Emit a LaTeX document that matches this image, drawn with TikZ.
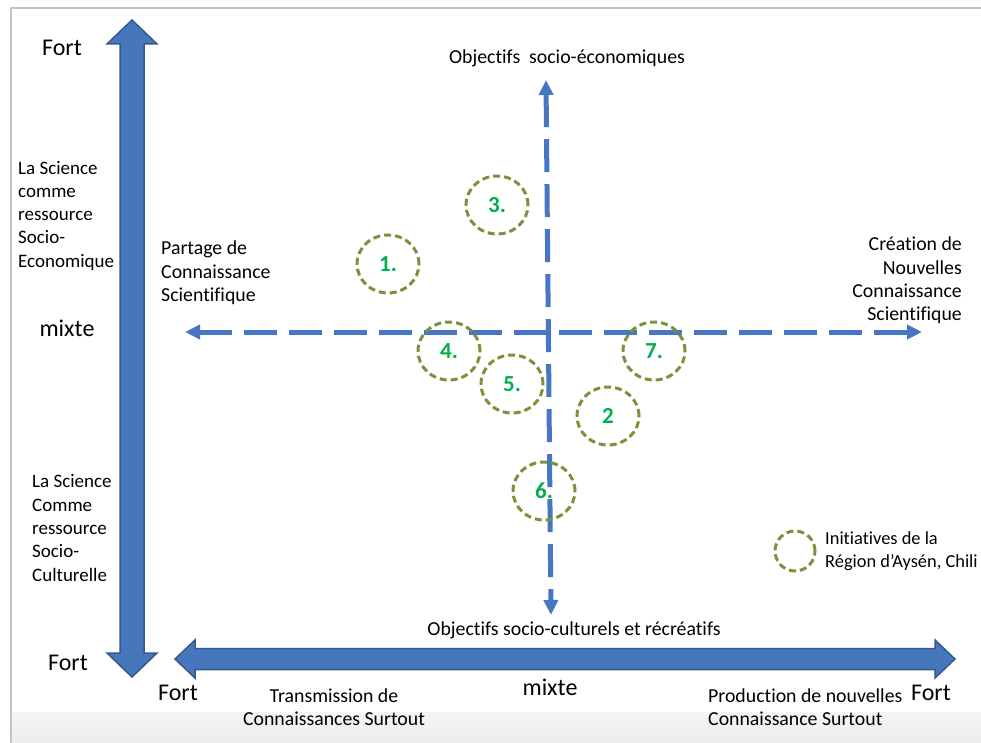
\documentclass[tikz,border=0pt]{standalone}
\usepackage{fontspec}
\setmainfont{Carlito}[Ligatures=CommonOff]
\usetikzlibrary{arrows.meta,positioning,shapes.geometric}
\definecolor{axisblue}{RGB}{70,118,188}
\definecolor{axisedge}{RGB}{52,90,138}
\definecolor{dashblue}{RGB}{72,118,194}
\definecolor{olive}{RGB}{119,147,60}
\definecolor{numgreen}{RGB}{0,176,80}
\definecolor{framegrey}{RGB}{196,196,196}

\begin{document}
\begin{tikzpicture}[x=1pt,y=-1pt,
    lbl/.style={font=\fontsize{19.8}{23.3}\selectfont,inner sep=0pt},
    sidelbl/.style={lbl,font=\fontsize{19}{23.3}\selectfont,anchor=west,align=left},
    big/.style={font=\fontsize{24}{26}\selectfont,inner sep=0pt},
    init/.style={draw=olive,line width=3pt,dash pattern=on 7pt off 4pt,ellipse,
      minimum width=62pt,minimum height=58pt,inner sep=0pt,
      text=numgreen,font=\fontsize{23}{26}\selectfont\bfseries},
    dashaxis/.style={dashblue,line width=5pt,dash pattern=on 33pt off 12pt,
      {Triangle[length=15pt,width=14pt]}-{Triangle[length=15pt,width=14pt]}},
    bigaxis/.style={fill=axisblue,draw=axisedge,line width=1.5pt,line join=miter}]
  \useasboundingbox (0,0) rectangle (981,743);
  % frame and bottom band
  \shade[top color=black!4,bottom color=black!7] (11,712) rectangle (981,743);
  \draw[framegrey,line width=1.5pt] (11,743) -- (11,8) -- (981,8);
  % big axes
  \draw[bigaxis] (132,20) -- (157,44) -- (144,44) -- (144,653) -- (157,653) -- (132,677)
    -- (107,653) -- (120,653) -- (120,44) -- (107,44) -- cycle;
  \draw[bigaxis] (175,659) -- (195,640) -- (195,648.5) -- (935,648.5) -- (935,640) -- (955,659)
    -- (935,678) -- (935,669.5) -- (195,669.5) -- (195,678) -- cycle;
  % dashed axes
  \coordinate (west) at (185,332);
  \coordinate (east) at (922,332);
  \coordinate (north) at (546,80);
  \coordinate (south) at (551,615);
  \draw[dashaxis] (west) -- (east);
  \draw[dashaxis] (north) -- (south);
  % initiatives
  \foreach \p/\n/\l in {(388,264)/c1/1.,(608,416)/c2/2,(497,205)/c3/3.,(449,351)/c4/4.,
      (512,384)/c5/5.,(544,491)/c6/6.,(654,351)/c7/7.}{
    \node[init] (\n) at \p {\l};
  }
  % labels
  \node[big] (fortN) at (62,48) {Fort};
  \node[big] (mixteV) at (67,328) {mixte};
  \node[big] (fortS) at (68,663) {Fort};
  \node[big] (fortW) at (178,693) {Fort};
  \node[big] (mixteH) at (550,687) {mixte};
  \node[big] (fortE) at (931,693) {Fort};
  \node[sidelbl] (eco) at (18,215.6) {La Science\\comme\\ressource\\Socio-\\Economique};
  \node[sidelbl] (cult) at (32,528) {La Science\\Comme\\ressource\\Socio-\\Culturelle};
  \node[lbl,anchor=west,align=left] (partage) at (161,273)
    {Partage de\\Connaissance\\Scientifique};
  \node[lbl,anchor=east,align=right] (creation) at (962,280.5)
    {Création de\\Nouvelles\\Connaissance\\Scientifique};
  \node[lbl] (objN) at (567,58) {Objectifs\ \ socio-économiques};
  \node[lbl] (objS) at (574,630) {Objectifs socio-culturels et récréatifs};
  \node[lbl,align=center] (transm) at (334,707.5) {Transmission de\\Connaissances Surtout};
  \node[lbl,anchor=west,align=left] (prod) at (708,707.5)
    {Production de nouvelles\\Connaissance Surtout};
  % legend
  \node[init,minimum width=40pt,minimum height=40pt] (key) at (795,551) {};
  \node[lbl,font=\fontsize{18.4}{23.3}\selectfont,anchor=west,align=left] (keytext)
    at (825,551.5) {Initiatives de la\\Région d’Aysén, Chili};
\end{tikzpicture}
\end{document}
